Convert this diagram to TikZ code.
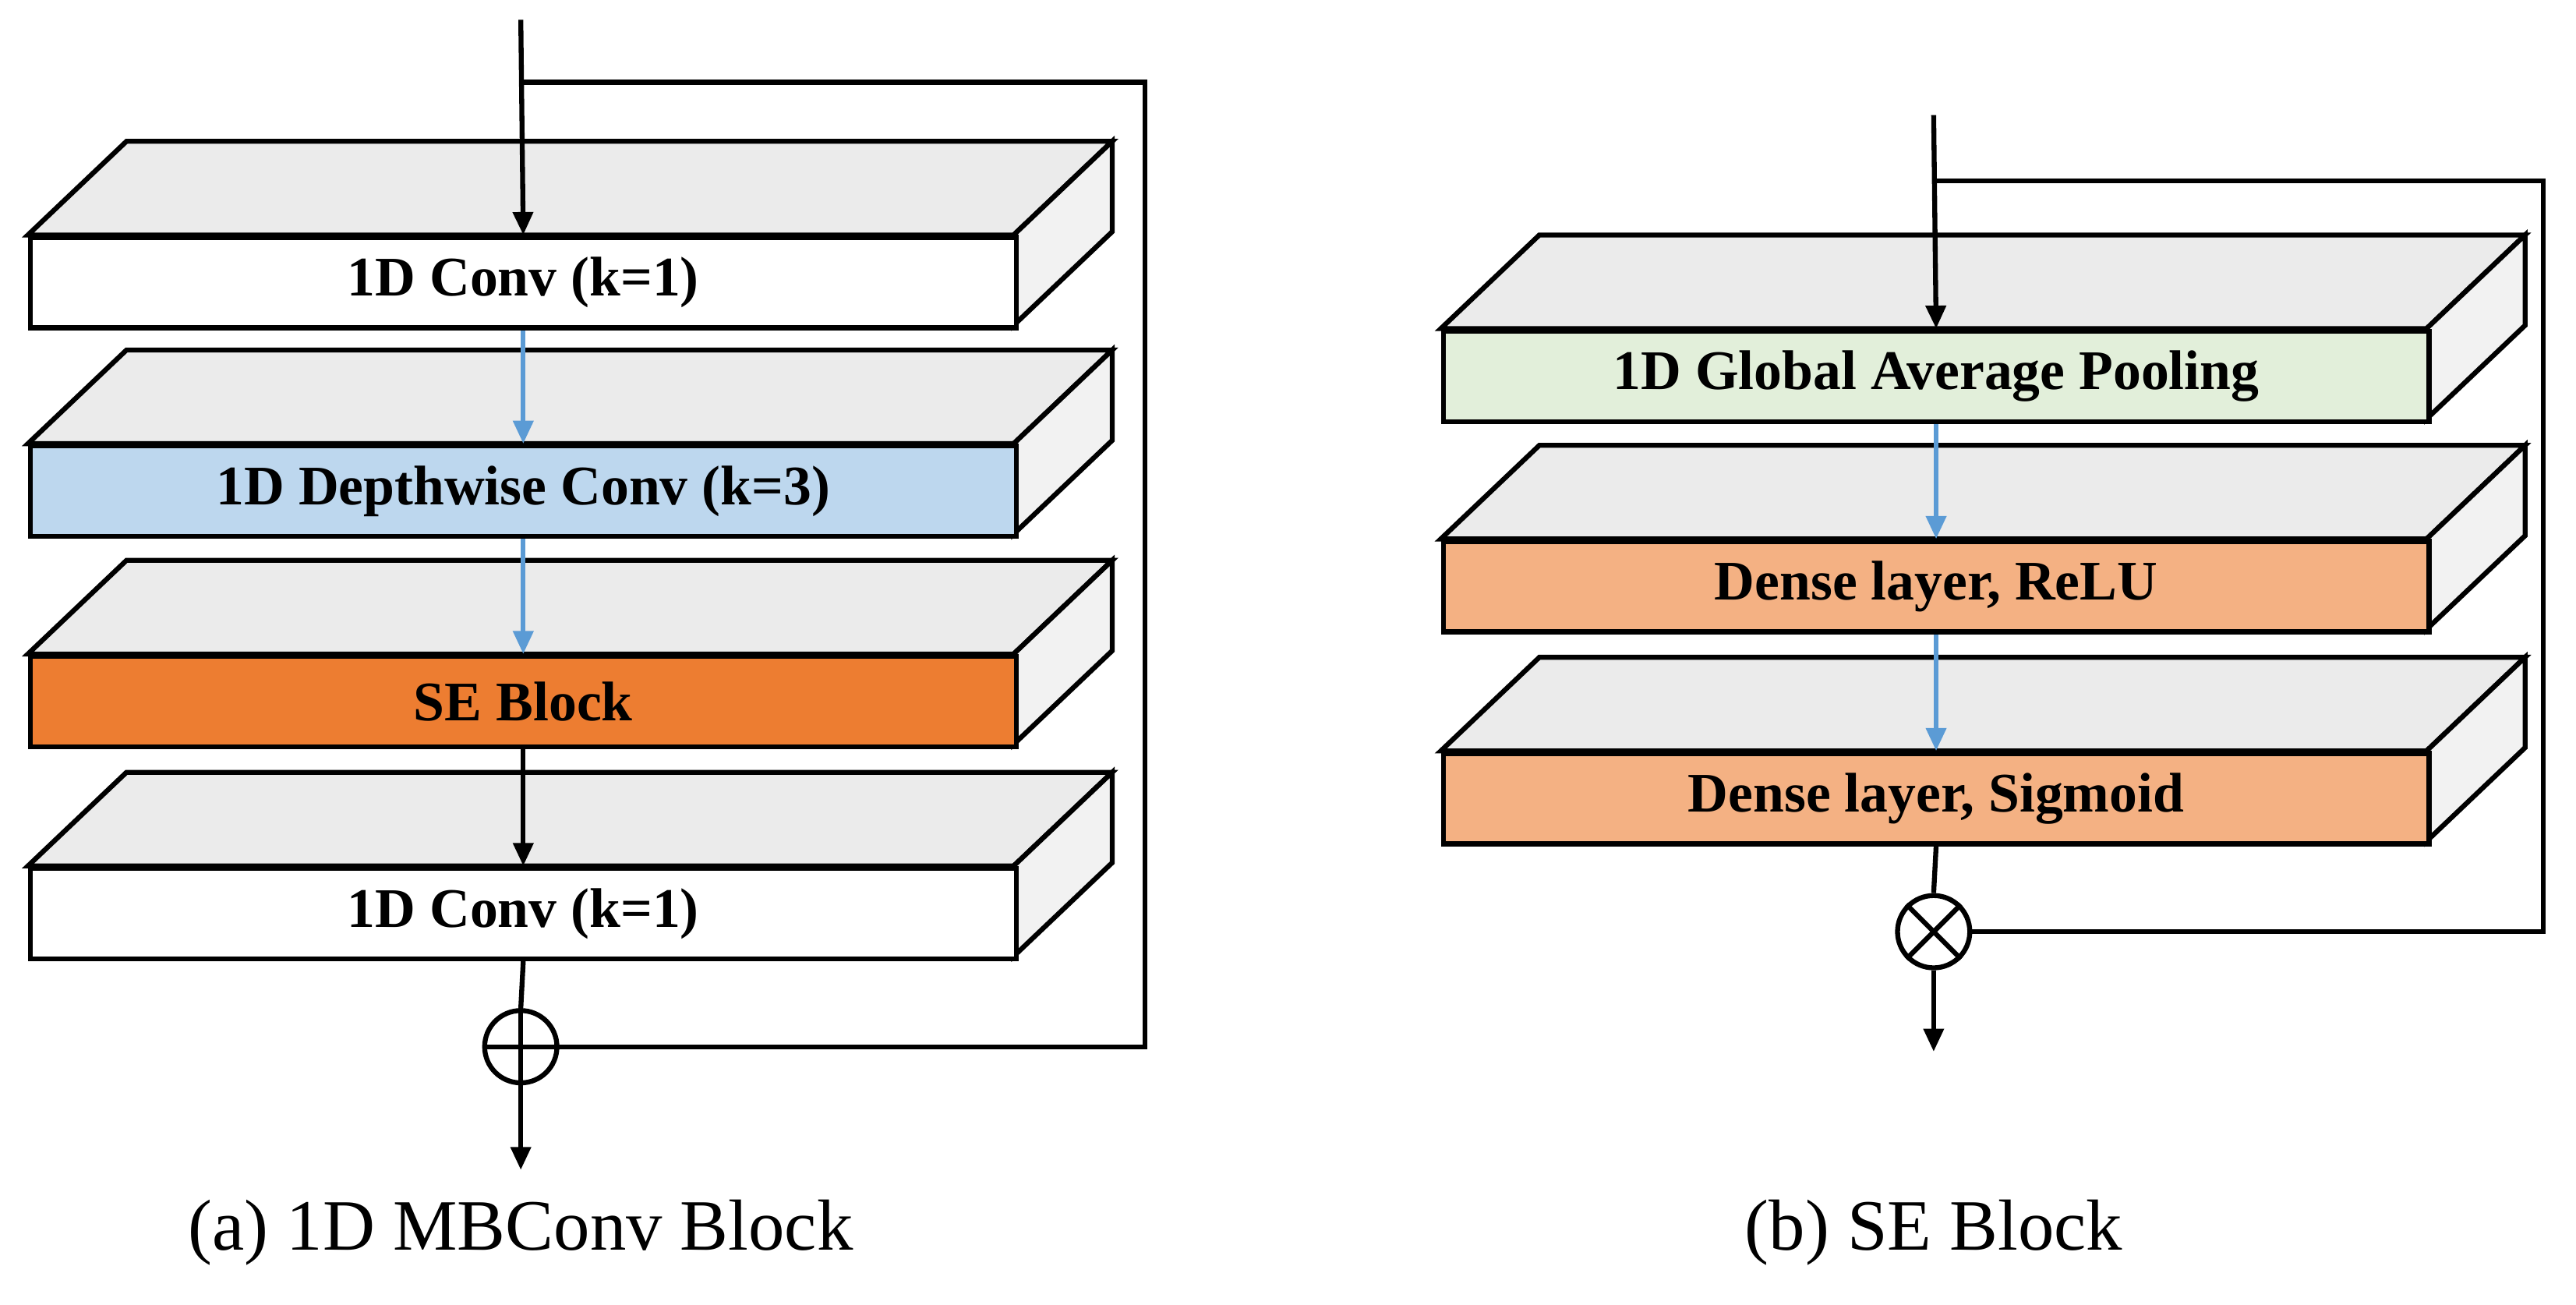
\documentclass[tikz,border=0pt]{standalone}
\usepackage{fontspec}
\setmainfont{Liberation Serif}
\usetikzlibrary{arrows.meta}
\definecolor{topc}{HTML}{EBEBEB}
\definecolor{sidec}{HTML}{F2F2F2}
\definecolor{bluec}{HTML}{BDD7EE}
\definecolor{orangec}{HTML}{ED7D31}
\definecolor{greenc}{HTML}{E2EFDA}
\definecolor{salmonc}{HTML}{F4B183}
\definecolor{arrb}{HTML}{5B9BD5}
\tikzset{
  lw/.style={line width=1.5pt},
  arr/.style={lw,-{Triangle[length=7pt,width=6pt]}},
  barr/.style={arr,draw=arrb},
  lbl/.style={font=\fontsize{17}{20}\selectfont\bfseries},
  captxt/.style={font=\fontsize{22}{26}\selectfont},
}
% #1 name, #2 left x, #3 front top y, #4 fill, #5 text
\newcommand{\layerbox}[5]{%
  \fill[topc,lw,draw=black] (#2,#3) -- (#2+60,#3-57) -- (#2+660,#3-57) -- (#2+600,#3) -- cycle;
  \fill[sidec,lw,draw=black] (#2+600,#3) -- (#2+660,#3-57) -- (#2+660,#3-2) -- (#2+600,#3+55) -- cycle;
  \node[lw,draw,fill=#4,minimum width=600pt*0.5,minimum height=55pt*0.5,anchor=north west,inner sep=0pt,lbl] (#1) at (#2,#3) {#5};
}
\begin{document}
\begin{tikzpicture}[x=0.5pt,y=-0.5pt]
\useasboundingbox (0,0) rectangle (1568,794);
% left
\layerbox{a1}{17}{143}{white}{1D Conv (k=1)}
\layerbox{a2}{17}{270}{bluec}{1D Depthwise Conv (k=3)}
\layerbox{a3}{17}{398}{orangec}{SE Block}
\layerbox{a4}{17}{527}{white}{1D Conv (k=1)}
\node[lw,draw,circle,minimum size=22pt,inner sep=0pt] (pa) at (317,637) {};
\draw[lw] (pa.north) -- (pa.south) (pa.west) -- (pa.east);
\coordinate (ina) at (317,12);
\coordinate (sa) at (317,50);
\coordinate (outa) at (317,712);
\draw[arr] (ina) -- (a1.north);
\draw[lw] (sa) -- (697,50) -- (697,637) -- (pa.east);
\draw[barr] (a1.south) -- (a2.north);
\draw[barr] (a2.south) -- (a3.north);
\draw[arr] (a3.south) -- (a4.north);
\draw[lw] (a4.south) -- (pa.north);
\draw[arr] (pa.south) -- (outa);
\node[captxt] (ca) at (317,750) {(a) 1D MBConv Block};
% right
\layerbox{b1}{877}{200}{greenc}{1D Global Average Pooling}
\layerbox{b2}{877}{328}{salmonc}{Dense layer, ReLU}
\layerbox{b3}{877}{457}{salmonc}{Dense layer, Sigmoid}
\node[lw,draw,circle,minimum size=22pt,inner sep=0pt] (pb) at (1177,567) {};
\draw[lw] (pb.north west) -- (pb.south east) (pb.north east) -- (pb.south west);
\coordinate (inb) at (1177,70);
\coordinate (sb) at (1177,110);
\coordinate (outb) at (1177,640);
\draw[arr] (inb) -- (b1.north);
\draw[lw] (sb) -- (1548,110) -- (1548,567) -- (pb.east);
\draw[barr] (b1.south) -- (b2.north);
\draw[barr] (b2.south) -- (b3.north);
\draw[lw] (b3.south) -- (pb.north);
\draw[arr] (pb.south) -- (outb);
\node[captxt] (cb) at (1177,750) {(b) SE Block};
\end{tikzpicture}
\end{document}
